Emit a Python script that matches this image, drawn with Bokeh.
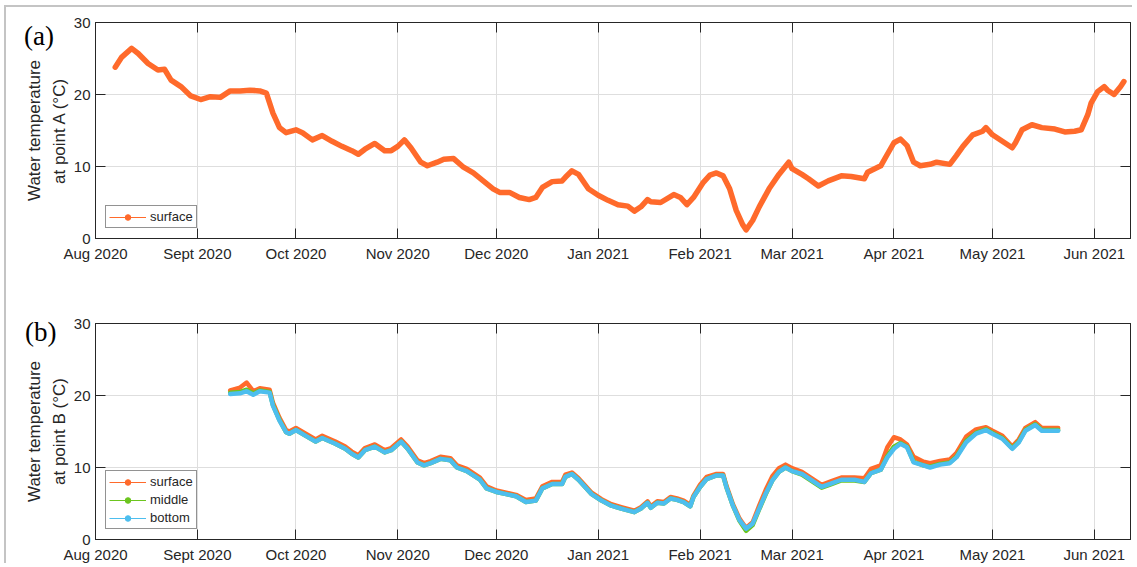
import pandas as pd
from bokeh.plotting import figure
from bokeh.layouts import column
from bokeh.models import (ColumnDataSource, FixedTicker, LinearAxis, DatetimeAxis,
                          Range1d, Legend, LegendItem, Div)
from bokeh.embed import file_html
from bokeh.resources import INLINE

# ---------------- data ----------------
a_dates = ["2020-08-07", "2020-08-09", "2020-08-12", "2020-08-14", "2020-08-17", "2020-08-20",
           "2020-08-22", "2020-08-24", "2020-08-27", "2020-08-30", "2020-09-02", "2020-09-05",
           "2020-09-08", "2020-09-11", "2020-09-14", "2020-09-17", "2020-09-20", "2020-09-22",
           "2020-09-24", "2020-09-26", "2020-09-28", "2020-10-01", "2020-10-03", "2020-10-06",
           "2020-10-09", "2020-10-12", "2020-10-15", "2020-10-18", "2020-10-20", "2020-10-22",
           "2020-10-25", "2020-10-28", "2020-10-30", "2020-11-01", "2020-11-03", "2020-11-05",
           "2020-11-08", "2020-11-10", "2020-11-13", "2020-11-15", "2020-11-18", "2020-11-21",
           "2020-11-24", "2020-11-27", "2020-11-30", "2020-12-02", "2020-12-05", "2020-12-08",
           "2020-12-11", "2020-12-13", "2020-12-15", "2020-12-18", "2020-12-21", "2020-12-22",
           "2020-12-24", "2020-12-26", "2020-12-29", "2021-01-01", "2021-01-04", "2021-01-07",
           "2021-01-10", "2021-01-12", "2021-01-14", "2021-01-16", "2021-01-17", "2021-01-20",
           "2021-01-24", "2021-01-26", "2021-01-28", "2021-01-30", "2021-02-02", "2021-02-04",
           "2021-02-06", "2021-02-08", "2021-02-10", "2021-02-12", "2021-02-14", "2021-02-15",
           "2021-02-17", "2021-02-19", "2021-02-22", "2021-02-25", "2021-02-28", "2021-03-01",
           "2021-03-04", "2021-03-06", "2021-03-09", "2021-03-12", "2021-03-16", "2021-03-19",
           "2021-03-23", "2021-03-24", "2021-03-28", "2021-03-30", "2021-04-01", "2021-04-03",
           "2021-04-05", "2021-04-07", "2021-04-09", "2021-04-12", "2021-04-14", "2021-04-18",
           "2021-04-20", "2021-04-22", "2021-04-25", "2021-04-28", "2021-04-29", "2021-05-01",
           "2021-05-04", "2021-05-07", "2021-05-08", "2021-05-10", "2021-05-13", "2021-05-16",
           "2021-05-20", "2021-05-23", "2021-05-26", "2021-05-28", "2021-05-30", "2021-05-31",
           "2021-06-02", "2021-06-04", "2021-06-05", "2021-06-07", "2021-06-09", "2021-06-10"]
a_surface = [23.8, 25.2, 26.4, 25.7, 24.3, 23.4,
             23.5, 22.0, 21.1, 19.8, 19.3, 19.7,
             19.6, 20.5, 20.5, 20.6, 20.5, 20.2,
             17.4, 15.4, 14.7, 15.1, 14.7, 13.7,
             14.3, 13.5, 12.8, 12.2, 11.7, 12.4,
             13.2, 12.2, 12.2, 12.8, 13.7, 12.6,
             10.6, 10.1, 10.6, 11.0, 11.1, 9.9,
             9.1, 8.0, 6.9, 6.4, 6.4, 5.7,
             5.4, 5.7, 7.1, 7.9, 8.0, 8.5,
             9.4, 8.9, 6.9, 6.0, 5.3, 4.7,
             4.5, 3.8, 4.4, 5.4, 5.1, 5.0,
             6.1, 5.7, 4.7, 5.7, 7.8, 8.8,
             9.1, 8.7, 6.9, 3.9, 1.9, 1.2,
             2.5, 4.4, 6.9, 8.9, 10.6, 9.7,
             8.9, 8.3, 7.3, 8.0, 8.7, 8.6,
             8.3, 9.2, 10.1, 11.7, 13.3, 13.8,
             12.9, 10.6, 10.1, 10.3, 10.6, 10.3,
             11.5, 12.8, 14.4, 14.9, 15.4, 14.4,
             13.5, 12.6, 13.3, 15.1, 15.8, 15.4,
             15.2, 14.8, 14.9, 15.1, 17.2, 18.8,
             20.4, 21.1, 20.6, 20.0, 21.1, 21.8]

b_dates = ["2020-09-11", "2020-09-14", "2020-09-16", "2020-09-18", "2020-09-20", "2020-09-23",
           "2020-09-24", "2020-09-26", "2020-09-28", "2020-09-29", "2020-10-01", "2020-10-04",
           "2020-10-07", "2020-10-09", "2020-10-13", "2020-10-16", "2020-10-18", "2020-10-20",
           "2020-10-22", "2020-10-25", "2020-10-28", "2020-10-30", "2020-11-02", "2020-11-04",
           "2020-11-07", "2020-11-09", "2020-11-11", "2020-11-14", "2020-11-17", "2020-11-19",
           "2020-11-22", "2020-11-26", "2020-11-28", "2020-12-01", "2020-12-04", "2020-12-07",
           "2020-12-10", "2020-12-13", "2020-12-15", "2020-12-18", "2020-12-21", "2020-12-22",
           "2020-12-24", "2020-12-26", "2020-12-30", "2021-01-02", "2021-01-05", "2021-01-08",
           "2021-01-12", "2021-01-14", "2021-01-16", "2021-01-17", "2021-01-19", "2021-01-21",
           "2021-01-23", "2021-01-25", "2021-01-27", "2021-01-29", "2021-01-30", "2021-02-01",
           "2021-02-03", "2021-02-06", "2021-02-08", "2021-02-09", "2021-02-11", "2021-02-13",
           "2021-02-15", "2021-02-17", "2021-02-19", "2021-02-21", "2021-02-23", "2021-02-25",
           "2021-02-27", "2021-03-01", "2021-03-04", "2021-03-07", "2021-03-10", "2021-03-13",
           "2021-03-16", "2021-03-20", "2021-03-23", "2021-03-25", "2021-03-28", "2021-03-30",
           "2021-04-01", "2021-04-03", "2021-04-05", "2021-04-07", "2021-04-10", "2021-04-12",
           "2021-04-15", "2021-04-18", "2021-04-20", "2021-04-23", "2021-04-26", "2021-04-29",
           "2021-05-01", "2021-05-04", "2021-05-07", "2021-05-09", "2021-05-11", "2021-05-14",
           "2021-05-16", "2021-05-19", "2021-05-21"]
b_surface = [20.7, 21.1, 21.8, 20.6, 21.0, 20.8,
             19.0, 16.9, 15.2, 15.0, 15.5, 14.7,
             13.9, 14.4, 13.6, 12.9, 12.2, 11.7,
             12.7, 13.2, 12.4, 12.7, 13.9, 12.9,
             11.0, 10.6, 10.9, 11.5, 11.3, 10.3,
             9.8, 8.6, 7.4, 6.8, 6.5, 6.2,
             5.5, 5.7, 7.4, 8.0, 8.0, 9.0,
             9.3, 8.5, 6.5, 5.6, 4.9, 4.5,
             4.0, 4.5, 5.3, 4.6, 5.3, 5.2,
             5.9, 5.7, 5.4, 4.8, 6.1, 7.6,
             8.7, 9.1, 9.1, 7.5, 4.9, 2.9,
             1.6, 2.4, 4.7, 6.9, 8.8, 9.9,
             10.4, 9.9, 9.4, 8.5, 7.6, 8.1,
             8.6, 8.6, 8.5, 9.8, 10.3, 12.8,
             14.2, 13.9, 13.2, 11.5, 10.8, 10.6,
             10.9, 11.1, 12.0, 14.3, 15.3, 15.6,
             15.1, 14.4, 12.9, 13.9, 15.5, 16.3,
             15.5, 15.5, 15.5]
b_middle = [20.4, 20.5, 20.8, 20.3, 20.7, 20.5,
            18.7, 16.6, 14.9, 14.7, 15.2, 14.4,
            13.6, 14.1, 13.3, 12.6, 11.9, 11.4,
            12.4, 12.9, 12.1, 12.4, 13.6, 12.6,
            10.7, 10.3, 10.6, 11.2, 11.0, 10.0,
            9.5, 8.3, 7.1, 6.6, 6.3, 6.0,
            5.2, 5.4, 7.1, 7.7, 7.7, 8.7,
            9.1, 8.3, 6.3, 5.4, 4.7, 4.3,
            3.8, 4.3, 5.1, 4.4, 5.1, 5.0,
            5.7, 5.5, 5.2, 4.6, 5.9, 7.3,
            8.4, 8.9, 8.9, 7.3, 4.7, 2.6,
            1.2, 2.0, 4.2, 6.3, 8.2, 9.4,
            10.0, 9.5, 9.0, 8.1, 7.2, 7.7,
            8.2, 8.2, 8.0, 9.2, 9.7, 11.6,
            12.9, 13.4, 12.9, 10.8, 10.3, 10.1,
            10.5, 10.7, 11.5, 13.7, 14.8, 15.3,
            14.8, 14.1, 12.7, 13.6, 15.2, 16.0,
            15.2, 15.2, 15.2]
b_bottom = [20.2, 20.3, 20.6, 20.1, 20.6, 20.4,
            18.6, 16.5, 14.9, 14.7, 15.2, 14.4,
            13.6, 14.1, 13.3, 12.6, 11.9, 11.4,
            12.4, 12.9, 12.1, 12.4, 13.6, 12.6,
            10.7, 10.3, 10.6, 11.2, 11.0, 10.0,
            9.5, 8.3, 7.1, 6.6, 6.3, 6.0,
            5.2, 5.4, 7.1, 7.7, 7.7, 8.7,
            9.1, 8.3, 6.3, 5.4, 4.7, 4.3,
            3.8, 4.3, 5.1, 4.4, 5.1, 5.0,
            5.7, 5.5, 5.2, 4.6, 5.9, 7.3,
            8.4, 8.9, 8.9, 7.3, 4.7, 2.7,
            1.5, 2.2, 4.3, 6.4, 8.2, 9.4,
            10.0, 9.5, 9.1, 8.2, 7.3, 7.8,
            8.3, 8.3, 8.0, 9.2, 9.7, 11.4,
            12.6, 13.3, 12.8, 10.7, 10.3, 10.0,
            10.4, 10.6, 11.4, 13.5, 14.7, 15.2,
            14.7, 14.0, 12.6, 13.5, 15.1, 15.9,
            15.1, 15.1, 15.1]

month_ticks = ["2020-08-01", "2020-09-01", "2020-10-01", "2020-11-01", "2020-12-01",
               "2021-01-01", "2021-02-01", "2021-03-01", "2021-04-01", "2021-05-01",
               "2021-06-01"]
month_labels = ["Aug 2020", "Sept 2020", "Oct 2020", "Nov 2020", "Dec 2020",
                "Jan 2021", "Feb 2021", "Mar 2021", "Apr 2021", "May 2021", "Jun 2021"]
y_ticks = [0, 10, 20, 30]
x_limits = ["2020-08-01", "2021-06-12"]
y_limits = [0, 30]

# ---------------- style ----------------
ORANGE = "#FF6A2B"
GREEN = "#6CC51F"
BLUE = "#4DBEEE"
AX = "#262626"
GRID = "#dedede"
FONT = "Liberation Sans"
WIDTH = 1136


def to_ms(ds):
    t = pd.to_datetime(ds)
    return [float((x - pd.Timestamp("1970-01-01")) // pd.Timedelta(milliseconds=1)) for x in t]


tick_ms = to_ms(month_ticks)
overrides = {int(t): lab for t, lab in zip(tick_ms, month_labels)}
xr = to_ms(x_limits)


def style_axis(ax, show_labels=True):
    ax.axis_line_color = AX
    ax.axis_line_width = 1
    ax.major_tick_line_color = AX
    ax.major_tick_in = 10
    ax.major_tick_out = 0
    ax.minor_tick_line_color = None
    ax.major_label_text_font = FONT
    if show_labels:
        ax.major_label_text_color = AX
        ax.major_label_text_font_size = "15px"
        ax.major_label_standoff = 6
    else:
        ax.major_label_text_color = None
        ax.major_label_text_font_size = "1px"
        ax.major_label_standoff = 0


def make_fig(height, top, bottom, ylabel):
    p = figure(width=WIDTH, height=height, x_axis_type="datetime",
               x_range=Range1d(xr[0], xr[1]), y_range=Range1d(y_limits[0], y_limits[1]),
               output_backend="svg", toolbar_location=None,
               min_border_left=95, min_border_right=WIDTH - 1130,
               min_border_top=top, min_border_bottom=bottom)
    p.background_fill_color = "white"
    p.border_fill_color = "white"
    p.outline_line_color = AX
    p.outline_line_width = 1
    xt = FixedTicker(ticks=tick_ms)
    yt = FixedTicker(ticks=y_ticks)
    xa = p.xaxis[0]
    xa.ticker = xt
    xa.major_label_overrides = overrides
    style_axis(xa)
    ya = p.yaxis[0]
    ya.ticker = yt
    style_axis(ya)
    ya.major_label_standoff = 5
    ya.axis_label = ylabel
    ya.axis_label_text_font = FONT
    ya.axis_label_text_font_size = "17px"
    ya.axis_label_text_font_style = "normal"
    ya.axis_label_text_color = AX
    ya.axis_label_text_line_height = 1.3
    ya.axis_label_standoff = 2
    p.xgrid.ticker = xt
    p.ygrid.ticker = yt
    p.xgrid.grid_line_color = GRID
    p.ygrid.grid_line_color = GRID
    ta = DatetimeAxis(ticker=xt)
    style_axis(ta, show_labels=False)
    p.add_layout(ta, "above")
    ra = LinearAxis(ticker=yt)
    style_axis(ra, show_labels=False)
    p.add_layout(ra, "right")
    return p


def add_series(p, src, ycol, color, width):
    r = p.line(x="x", y=ycol, source=src, line_color=color, line_width=width,
               line_join="round", line_cap="round")
    lg_line = p.line(x="x", y=ycol, source=src, line_color=color, line_width=1.2, visible=False)
    lg_dot = p.scatter(x="x", y=ycol, source=src, marker="circle", size=2.2,
                       color=color, visible=False)
    return r, [lg_line, lg_dot]


def add_legend(p, items):
    leg = Legend(items=items, location="bottom_left",
                 border_line_color=AX, border_line_width=1, background_fill_color="white",
                 background_fill_alpha=1, label_text_font=FONT, label_text_font_size="13px",
                 label_text_color=AX, glyph_width=37, glyph_height=14, label_height=14,
                 label_standoff=4, padding=3, spacing=3, margin=10)
    p.add_layout(leg)


def letter_div(text, left, top):
    return Div(text=text, margin=0,
               styles={"position": "absolute", "left": f"{left}px", "top": f"{top}px",
                       "font-family": "Liberation Serif", "font-size": "27px",
                       "line-height": "30px", "color": "black", "z-index": "10"})


# Panel (a): canvas 0..298, frame 22..238
pa = make_fig(298, 22, 60, "Water temperature\nat point A (°C)")
src_a = ColumnDataSource(dict(x=to_ms(a_dates), surface=a_surface))
_, lga = add_series(pa, src_a, "surface", ORANGE, 5.5)
add_legend(pa, [LegendItem(label="surface", renderers=lga)])

# Panel (b): canvas 298..566, frame 323..539
pb = make_fig(268, 25, 27, "Water temperature\nat point B (°C)")
src_b = ColumnDataSource(dict(x=to_ms(b_dates), surface=b_surface, middle=b_middle, bottom=b_bottom))
_, lgs = add_series(pb, src_b, "surface", ORANGE, 4.5)
_, lgm = add_series(pb, src_b, "middle", GREEN, 4.5)
_, lgb = add_series(pb, src_b, "bottom", BLUE, 4.5)
add_legend(pb, [LegendItem(label="surface", renderers=lgs),
                LegendItem(label="middle", renderers=lgm),
                LegendItem(label="bottom", renderers=lgb)])

# panel letters and the thin page frame as overlaid Divs
letter_a = letter_div("(a)", 24, 21)
letter_b = letter_div("(b)", 25, 317)
page_frame = Div(text="", width=1128, height=558, margin=0,
                 styles={"position": "absolute", "left": "4px", "top": "5px",
                         "border-top": "2px solid #c4c4c4", "border-left": "2px solid #c4c4c4",
                         "z-index": "9", "pointer-events": "none"})

layout = column(page_frame, letter_a, letter_b, pa, pb)
open("out.html", "w").write(file_html(layout, INLINE))
